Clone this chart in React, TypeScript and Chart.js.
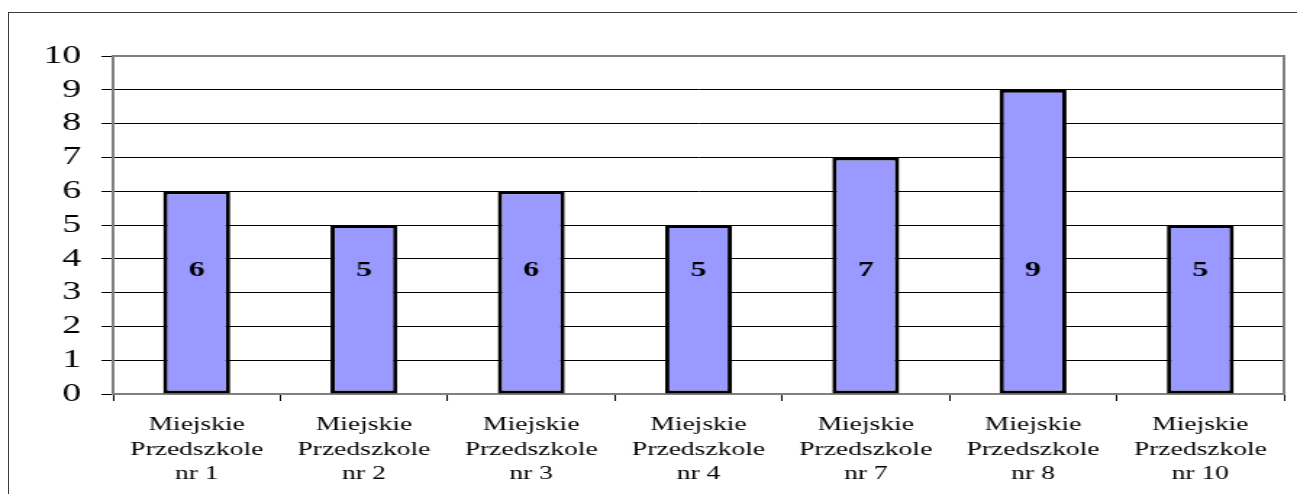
import { useEffect, useRef } from 'react';
import { Chart, registerables } from 'chart.js';

Chart.register(...registerables);

const categories: string[][] = [
  ['Miejskie', 'Przedszkole', 'nr 1'],
  ['Miejskie', 'Przedszkole', 'nr 2'],
  ['Miejskie', 'Przedszkole', 'nr 3'],
  ['Miejskie', 'Przedszkole', 'nr 4'],
  ['Miejskie', 'Przedszkole', 'nr 7'],
  ['Miejskie', 'Przedszkole', 'nr 8'],
  ['Miejskie', 'Przedszkole', 'nr 10'],
];
const values: number[] = [6, 5, 6, 5, 7, 9, 5];
const yMin = 0;
const yMax = 10;
const yStep = 1;
const labelLevel = 3.65;

const SERIF = "'Liberation Serif', 'Times New Roman', serif";
const PAGE_W = 1297;
const PAGE_H = 494;
const CANVAS_W = 895;
const STRETCH = PAGE_W / CANVAS_W;

const barLabels = {
  id: 'barLabels',
  afterDatasetsDraw(chart: any) {
    const { ctx } = chart;
    const y = chart.scales.y;
    const meta = chart.getDatasetMeta(0);
    ctx.save();
    ctx.font = `bold 22px ${SERIF}`;
    ctx.fillStyle = '#000';
    ctx.textAlign = 'center';
    ctx.textBaseline = 'middle';
    meta.data.forEach((bar: any, i: number) => {
      ctx.fillText(String(values[i]), bar.x, y.getPixelForValue(labelLevel));
    });
    ctx.restore();
  },
};

const plotFrame = {
  id: 'plotFrame',
  beforeDatasetsDraw(chart: any) {
    const { ctx, chartArea } = chart;
    ctx.save();
    ctx.strokeStyle = '#808080';
    ctx.lineWidth = 2;
    ctx.beginPath();
    ctx.moveTo(chartArea.left, chartArea.top);
    ctx.lineTo(chartArea.right, chartArea.top);
    ctx.lineTo(chartArea.right, chartArea.bottom);
    ctx.stroke();
    ctx.restore();
  },
};

export default function App() {
  const ref = useRef<HTMLCanvasElement>(null);
  useEffect(() => {
    if (!ref.current) return;
    const chart = new Chart(ref.current, {
      type: 'bar',
      data: {
        labels: categories,
        datasets: [
          {
            data: values,
            backgroundColor: '#9999FF',
            borderColor: '#000',
            borderWidth: 3,
            borderSkipped: false,
            barPercentage: 0.4,
            categoryPercentage: 1,
          },
        ],
      },
      options: {
        animation: false,
        responsive: false,
        devicePixelRatio: 1,
        layout: { padding: { left: 0, right: 9, top: 56, bottom: 0 } },
        plugins: { legend: { display: false }, tooltip: { enabled: false } },
        scales: {
          x: {
            offset: true,
            grid: {
              offset: true,
              drawOnChartArea: false,
              drawTicks: true,
              tickLength: 7,
              color: '#000',
              lineWidth: 1,
            },
            border: { display: true, color: '#808080', width: 2 },
            ticks: {
              color: '#000',
              padding: 12,
              maxRotation: 0,
              autoSkip: false,
              font: { family: SERIF, size: 19, lineHeight: 24.5 / 19 },
            },
            afterFit: (s: any) => {
              s.height = 100;
            },
          },
          y: {
            min: yMin,
            max: yMax,
            grid: { color: '#000', lineWidth: 1, tickLength: 8, drawTicks: true },
            border: { display: true, color: '#808080', width: 2 },
            ticks: {
              stepSize: yStep,
              autoSkip: false,
              color: '#000',
              padding: 14,
              font: { family: SERIF, size: 26 },
            },
            afterFit: (s: any) => {
              s.width = 78;
            },
          },
        },
      },
      plugins: [plotFrame, barLabels],
    });
    return () => chart.destroy();
  }, []);

  return (
    <div style={{ position: 'fixed', left: 0, top: 0, width: '100vw', height: '100vh', overflow: 'hidden', background: '#fff' }}>
      <div
        style={{
          position: 'absolute',
          left: 8,
          top: 12,
          width: 1400,
          height: 700,
          border: '1px solid #3a3a3a',
          boxSizing: 'border-box',
        }}
      />
      <canvas
        ref={ref}
        width={CANVAS_W}
        height={PAGE_H}
        style={{
          position: 'absolute',
          left: 0,
          top: 0,
          width: CANVAS_W,
          height: PAGE_H,
          transform: `scaleX(${STRETCH})`,
          transformOrigin: '0 0',
        }}
      />
    </div>
  );
}
